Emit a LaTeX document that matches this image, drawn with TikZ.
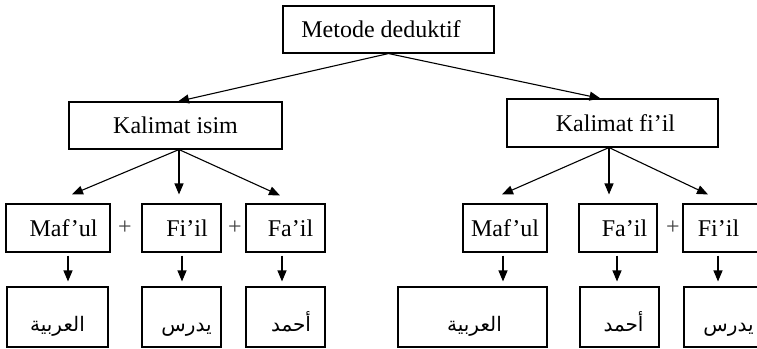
\documentclass[tikz,border=0pt]{standalone}
\usepackage{fontspec}
\setmainfont{Liberation Serif}
\newfontfamily\arabicfont[Script=Arabic]{DejaVu Sans}
\TeXXeTstate=1
\usetikzlibrary{arrows.meta}
\tikzset{
  x=1pt, y=1pt,
  box/.style={draw=black, line width=1.1pt, inner sep=0pt, minimum height=48pt,
    font=\fontsize{24}{28}\selectfont, text height=16pt, text depth=0pt},
  abox/.style={draw=black, line width=1.1pt, inner sep=0pt, minimum height=60pt,
    font=\fontsize{20}{24}\selectfont, text height=28pt, text depth=0pt},
  plus/.style={inner sep=0pt, font=\fontsize{24}{28}\selectfont, text=black!75},
  arr/.style={-{Triangle[length=11pt,width=9pt]}, line width=1.1pt},
}
\newcommand{\ar}[1]{{\arabicfont\beginR #1\endR}}
\begin{document}
\begin{tikzpicture}
\useasboundingbox (0,0) rectangle (757,-348);
% top
\node[box, minimum width=211pt, minimum height=47pt] (top) at (388.5,-29.5) {Metode deduktif\hspace*{15pt}};
\node[box, minimum width=213pt, minimum height=47pt] (ki) at (175.5,-125.5) {Kalimat isim};
\node[box, minimum width=211pt] (kf) at (612.5,-123) {\hspace*{6pt}Kalimat fi’il};
% middle row left
\node[box, minimum width=104pt] (lm1) at (58,-228) {\hspace*{11pt}Maf’ul};
\node[box, minimum width=79pt] (lm2) at (181.5,-228) {\hspace*{11pt}Fi’il};
\node[box, minimum width=79pt] (lm3) at (285.5,-228) {\hspace*{10pt}Fa’il};
% middle row right
\node[box, minimum width=84pt] (rm1) at (505,-228) {Maf’ul};
\node[box, minimum width=78pt] (rm2) at (618,-228) {\hspace*{13pt}Fa’il};
\node[box, minimum width=80pt] (rm3) at (723,-228) {Fi’il\hspace*{9pt}};
% plus signs
\node[plus] (p1) at (125,-228) {+};
\node[plus] (p2) at (235,-228) {+};
\node[plus] (p3) at (673,-228) {+};
% bottom row
\node[abox, minimum width=101pt] (lb1) at (57.5,-317) {\ar{العربية}};
\node[abox, minimum width=79pt] (lb2) at (181.5,-317) {\hspace*{10pt}\ar{يدرس}};
\node[abox, minimum width=79pt] (lb3) at (285.5,-317) {\hspace*{11pt}\ar{أحمد}};
\node[abox, minimum width=149pt] (rb1) at (472.5,-317) {\hspace*{4pt}\ar{العربية}};
\node[abox, minimum width=79pt] (rb2) at (619.5,-317) {\hspace*{8pt}\ar{أحمد}};
\node[abox, minimum width=79pt] (rb3) at (723.5,-317) {\hspace*{10pt}\ar{يدرس}};
% top arrows
\draw[arr] (top.south) -- ([xshift=2.5pt]ki.north);
\draw[arr] (top.south) -- ([xshift=-12pt]kf.north);
% left group
\draw[arr] ([xshift=3.5pt]ki.south) -- ([xshift=14pt,yshift=9pt]lm1.north);
\draw[arr] ([xshift=3.5pt]ki.south) -- ([xshift=-2.5pt,yshift=9pt]lm2.north);
\draw[arr] ([xshift=3.5pt]ki.south) -- ([xshift=-5.5pt,yshift=8pt]lm3.north);
% right group
\draw[arr] ([xshift=-3.5pt]kf.south) -- ([xshift=-3pt,yshift=9pt]rm1.north);
\draw[arr] ([xshift=-3.5pt]kf.south) -- ([xshift=-9pt,yshift=9pt]rm2.north);
\draw[arr] ([xshift=-3.5pt]kf.south) -- ([xshift=-15pt,yshift=9pt]rm3.north);
% down arrows
\draw[arr, shorten <=3pt, shorten >=5pt] ([xshift=10pt]lm1.south) -- ([xshift=10.5pt]lb1.north);
\draw[arr, shorten <=3pt, shorten >=5pt] ([xshift=0.5pt]lm2.south) -- ([xshift=0.5pt]lb2.north);
\draw[arr, shorten <=3pt, shorten >=5pt] ([xshift=-3.5pt]lm3.south) -- ([xshift=-3.5pt]lb3.north);
\draw[arr, shorten <=3pt, shorten >=5pt] ([xshift=-2pt]rm1.south) -- ([xshift=30.5pt]rb1.north);
\draw[arr, shorten <=3pt, shorten >=5pt] ([xshift=-1pt]rm2.south) -- ([xshift=-2.5pt]rb2.north);
\draw[arr, shorten <=3pt, shorten >=5pt] ([xshift=-5pt]rm3.south) -- ([xshift=-5.5pt]rb3.north);
\end{tikzpicture}
\end{document}
